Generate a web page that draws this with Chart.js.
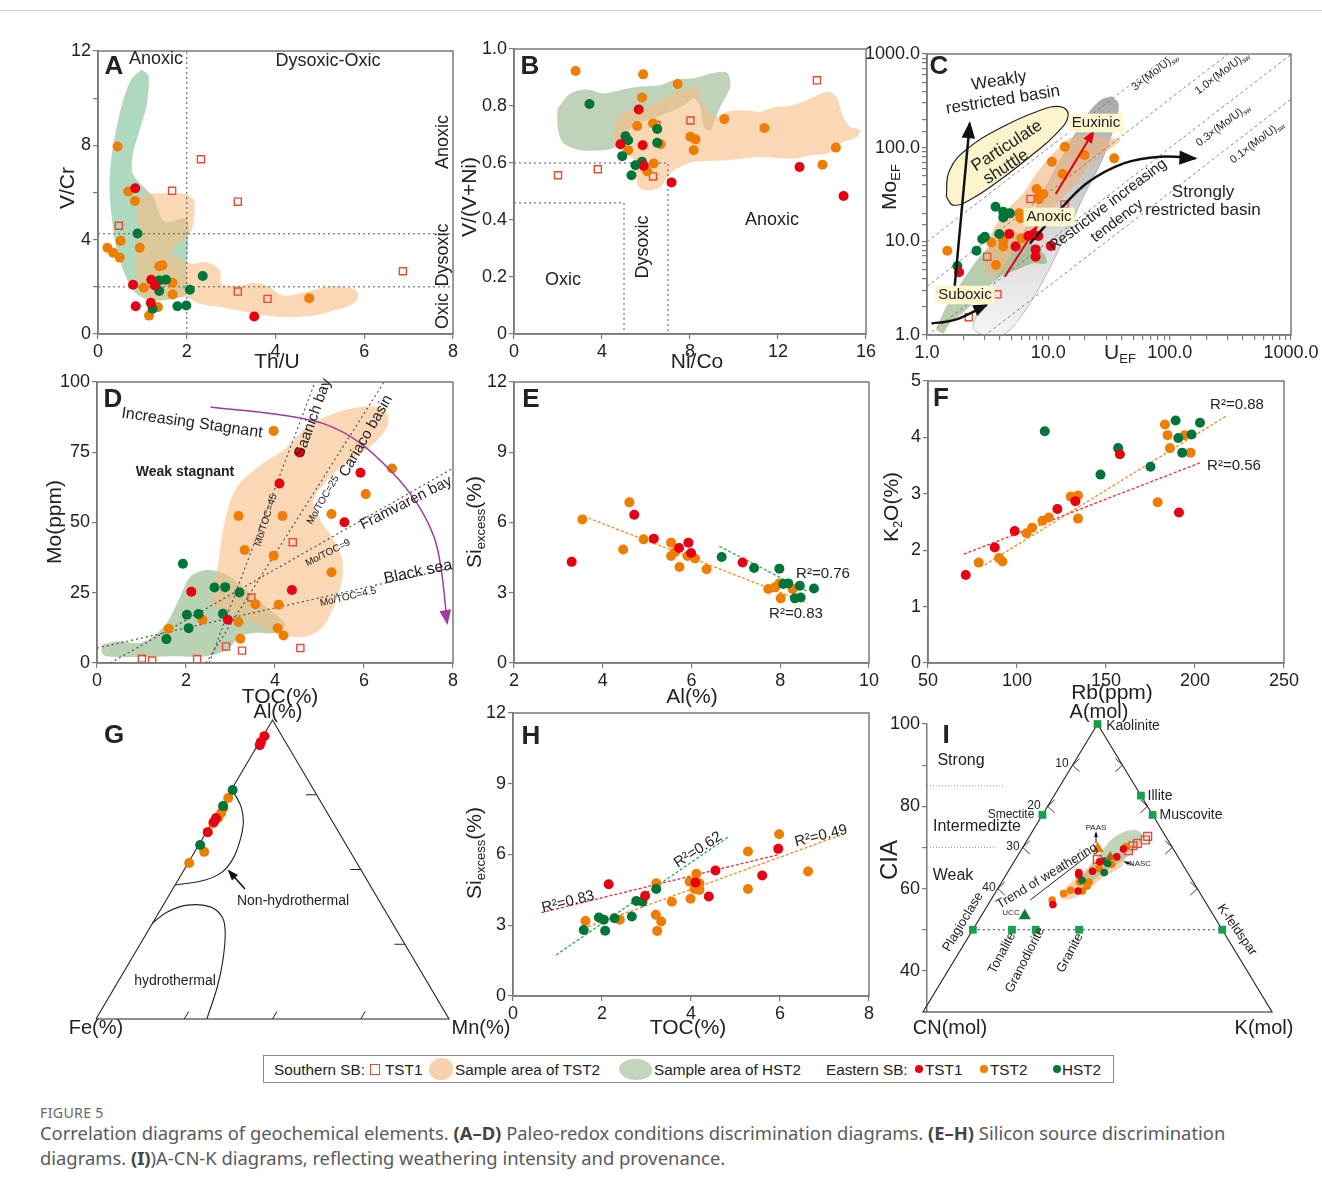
<!DOCTYPE html>
<html>
<head>
<meta charset="utf-8">
<script src="https://cdn.jsdelivr.net/npm/chart.js@4.4.1/dist/chart.umd.min.js"></script>
<style>
body { margin: 0; background: #fff; }
#page { position: relative; width: 1322px; height: 1189px; overflow: hidden; font-family: 'Liberation Sans', Arial, sans-serif; }
#topline { position: absolute; left: 0; top: 10px; width: 1322px; height: 1px; background: #d4d4d4; }
#legend { position: absolute; left: 263px; top: 1055px; width: 849px; height: 26px; border: 1px solid #8a8a8a; font-family: 'Liberation Sans Narrow', 'Liberation Sans', sans-serif; font-size: 15.3px; color: #222; }
#legend span { position: absolute; top: 5px; white-space: nowrap; }
#legend i { position: absolute; display: block; }
#figlabel { position: absolute; left: 40px; top: 1103px; font-family: 'Noto Sans', sans-serif; font-size: 14.2px; color: #6a6a6a; letter-spacing: 0.3px; }
.cap { position: absolute; left: 40px; font-family: 'Noto Sans', sans-serif; font-size: 18.4px; color: #5a5a5a; white-space: nowrap; }
.cap b { color: #444; }
</style>
</head>
<body>
<div id="page">
  <div id="topline"></div>
  <div id="legend">
    <span style="left:10px">Southern SB:</span>
    <i style="left:106px;top:8px;width:8px;height:9px;border:1.4px solid #EC4A33"></i>
    <span style="left:121px">TST1</span>
    <i style="left:165px;top:2px;width:24px;height:22px;background:#F6D2AC;border-radius:55% 45% 50% 50%"></i>
    <span style="left:191px">Sample area of TST2</span>
    <i style="left:355px;top:3px;width:33px;height:21px;background:#C3D5BD;border-radius:50% 50% 45% 55%"></i>
    <span style="left:390px">Sample area of HST2</span>
    <span style="left:562px">Eastern SB:</span>
    <i style="left:651px;top:9px;width:8px;height:8px;border-radius:50%;background:#E60012"></i>
    <span style="left:661px">TST1</span>
    <i style="left:716px;top:9px;width:8px;height:8px;border-radius:50%;background:#EF7D00"></i>
    <span style="left:726px">TST2</span>
    <i style="left:789px;top:9px;width:8px;height:8px;border-radius:50%;background:#00753A"></i>
    <span style="left:798px">HST2</span>
  </div>
  <div id="figlabel">FIGURE 5</div>
  <div class="cap" style="top:1120px">Correlation diagrams of geochemical elements. <b>(A–D)</b> Paleo-redox conditions discrimination diagrams. <b>(E–H)</b> Silicon source discrimination</div>
  <div class="cap" style="top:1145px">diagrams. <b>(I)</b>)A-CN-K diagrams, reflecting weathering intensity and provenance.</div>
</div>
<script>
const FONT = "'Liberation Sans', Arial, sans-serif";
const NARROW = "'Liberation Sans Narrow', 'Liberation Sans', sans-serif";
const RED = '#E60012', ORANGE = '#EF7D00', GREEN = '#00753A', SQ = '#EC4A33', MINERAL = '#17A04A';
const TAN = 'rgba(246,188,132,0.6)';

// ---- A : V/Cr vs Th/U
const aRedX = [0.84, 0.79, 1.20, 1.28, 0.85, 1.19, 3.52];
const aRedY = [6.18, 2.09, 2.30, 2.06, 1.18, 1.32, 0.74];
const aOrX = [0.44, 0.68, 0.83, 0.51, 0.21, 0.34, 0.49, 0.94, 1.38, 1.45, 1.68, 1.68, 1.03, 1.35, 1.15, 4.76];
const aOrY = [7.95, 6.04, 5.64, 3.95, 3.66, 3.45, 3.24, 3.66, 2.87, 2.91, 2.17, 1.68, 1.96, 1.14, 0.78, 1.52];
const aGrX = [0.89, 1.38, 1.53, 1.38, 1.79, 1.99, 2.07, 2.36, 1.23];
const aGrY = [4.26, 2.27, 2.30, 1.82, 1.18, 1.21, 1.88, 2.46, 1.07];
const aSqX = [0.47, 1.67, 2.32, 3.15, 3.15, 3.82, 6.87];
const aSqY = [4.59, 6.07, 7.41, 5.61, 1.80, 1.49, 2.66];
const aGreenX = [0.98, 1.14, 1.09, 0.94, 0.79, 0.78, 1.02, 1.24, 1.50, 1.99, 2.03, 1.99, 1.99, 1.69, 1.24, 0.87, 0.60, 0.41, 0.30, 0.26, 0.34, 0.53, 0.75];
const aGreenY = [11.22, 10.94, 9.66, 8.66, 7.67, 6.82, 6.25, 5.82, 4.76, 4.90, 3.98, 2.56, 1.70, 1.49, 1.42, 1.70, 2.56, 3.69, 5.11, 6.53, 7.95, 9.66, 10.80];
const aTanX = [0.87, 1.17, 1.99, 2.16, 2.16, 2.07, 1.69, 1.66, 1.92, 2.14, 2.45, 2.75, 2.78, 3.20, 3.50, 3.80, 4.18, 4.70, 5.15, 5.76, 5.87, 5.76, 5.30, 4.85, 4.33, 3.80, 3.20, 2.75, 2.29, 1.99, 1.69, 1.24, 0.94, 0.87, 0.87, 0.90];
const aTanY = [5.82, 5.94, 5.94, 5.68, 4.83, 4.26, 3.62, 3.41, 3.13, 2.98, 3.05, 2.70, 2.13, 2.06, 2.16, 2.06, 1.63, 1.78, 1.99, 1.92, 1.63, 1.28, 0.99, 0.78, 0.71, 0.78, 0.99, 1.14, 1.28, 1.56, 1.56, 1.49, 1.70, 2.56, 3.98, 4.83];
const aThU = 2, aVCr = [4.25, 2];

// ---- B : V/(V+Ni) vs Ni/Co
const bOrX = [2.80, 5.87, 7.44, 5.82, 5.60, 6.32, 5.19, 6.66, 6.35, 6.05, 9.56, 11.38, 8.02, 8.25, 8.17, 14.63, 14.02];
const bOrY = [0.923, 0.911, 0.877, 0.830, 0.730, 0.739, 0.645, 0.666, 0.598, 0.571, 0.754, 0.723, 0.692, 0.683, 0.645, 0.654, 0.594];
const bRedX = [5.67, 4.84, 5.85, 5.90, 7.16, 12.98, 14.98];
const bRedY = [0.788, 0.666, 0.662, 0.590, 0.532, 0.586, 0.484];
const bGrX = [3.43, 5.07, 5.19, 4.92, 6.51, 6.51, 5.52, 5.82, 5.34];
const bGrY = [0.807, 0.694, 0.680, 0.624, 0.719, 0.671, 0.592, 0.604, 0.557];
const bSqX = [2.00, 3.81, 6.32, 6.47, 8.02, 13.77];
const bSqY = [0.557, 0.578, 0.553, 0.733, 0.749, 0.890];
const bGreenX = [1.97, 2.57, 3.33, 4.08, 4.84, 5.75, 6.66, 7.26, 8.17, 8.93, 9.68, 9.83, 9.38, 9.08, 8.93, 8.70, 8.55, 8.47, 8.17, 7.72, 7.11, 6.51, 6.05, 5.45, 5.07, 4.69, 4.08, 3.03, 2.27, 2.00];
const bGreenY = [0.791, 0.844, 0.858, 0.844, 0.856, 0.868, 0.873, 0.891, 0.897, 0.914, 0.917, 0.868, 0.797, 0.739, 0.715, 0.721, 0.750, 0.797, 0.826, 0.803, 0.780, 0.762, 0.750, 0.739, 0.692, 0.657, 0.645, 0.645, 0.668, 0.715];
const bTanX = [4.54, 4.84, 5.75, 6.66, 7.56, 8.32, 8.47, 9.08, 9.68, 10.44, 11.20, 11.95, 12.71, 13.46, 14.22, 14.67, 14.90, 15.28, 15.73, 15.58, 14.83, 14.22, 13.46, 12.71, 11.20, 9.68, 8.17, 7.56, 7.26, 6.96, 6.66, 6.05, 5.67, 5.52, 5.45, 4.69, 4.54];
const bTanY = [0.727, 0.774, 0.785, 0.821, 0.856, 0.862, 0.821, 0.762, 0.780, 0.785, 0.780, 0.797, 0.803, 0.826, 0.850, 0.832, 0.774, 0.727, 0.715, 0.692, 0.668, 0.633, 0.627, 0.615, 0.621, 0.610, 0.604, 0.586, 0.574, 0.551, 0.516, 0.504, 0.516, 0.563, 0.610, 0.657, 0.692];
const bNiCo = [5, 7], bVVNi = [0.46, 0.6];

// ---- C : Mo EF vs U EF (log-log)
const cOrX = [1.47, 10.7, 13.7, 19.8, 34.9, 13.1, 8.0, 8.5, 9.1, 8.4, 5.75, 5.9, 6.0, 4.25, 4.25, 3.4, 3.7];
const cOrY = [7.95, 70.9, 102, 83.5, 76.9, 52.3, 36.2, 31.2, 32.0, 28.1, 19.9, 17.6, 10.8, 10.3, 8.8, 9.7, 5.6];
const cRedX = [1.84, 4.76, 5.37, 8.27, 7.86, 7.86, 10.5, 6.84];
const cRedY = [4.67, 12.0, 8.8, 11.4, 8.2, 6.86, 8.9, 11.4];
const cGrX = [1.78, 2.56, 2.85, 3.0, 3.67, 4.25, 4.82, 4.25, 3.94];
const cGrY = [5.45, 7.95, 10.6, 11.2, 23.4, 20.7, 19.9, 18.0, 12.0];
const cSqX = [7.14, 13.6, 3.13, 3.81, 2.21];
const cSqY = [28.3, 24.8, 6.86, 2.72, 1.55];
const cGrayX = [33.0, 37.5, 36.7, 28.5, 19.5, 13.3, 9.1, 6.2, 4.25, 2.9, 2.4, 3.0, 4.3, 6.4, 9.6, 14.5, 20.7, 27.0];
const cGrayY = [350, 300, 214, 80.1, 30.0, 10.3, 3.86, 1.70, 1.0, 1.0, 1.23, 2.36, 5.37, 13.2, 38.3, 102, 220, 320];
const cTanX = [28.5, 39.1, 28.5, 22.1, 17.1, 13.3, 9.1, 7.05, 5.14, 3.99, 3.09, 3.09, 3.51, 4.53, 6.21, 8.0, 11.0, 15.1, 20.7];
const cTanY = [126, 121, 87, 68, 41.6, 30.0, 16.9, 10.3, 7.45, 4.55, 4.55, 7.45, 13.2, 21.6, 32.5, 53.2, 87, 126, 137];
const cGreenX = [1.19, 1.44, 1.98, 2.72, 3.74, 4.82, 6.62, 9.1, 9.69, 7.52, 5.47, 3.99, 2.90, 2.11, 1.54, 1.36];
const cGreenY = [1.13, 2.01, 3.86, 6.86, 10.3, 13.2, 10.3, 7.45, 5.82, 5.82, 4.94, 4.2, 2.79, 1.85, 1.33, 1.04];
const cShuttleX = [1.44, 1.54, 2.25, 4.25, 8.0, 12.5, 14.6, 11.7, 7.05, 3.99, 2.25, 1.64];
const cShuttleY = [30.0, 57.8, 102, 168, 242, 274, 223, 142, 80, 45.2, 27.6, 24.4];
const cRatio = [3, 1, 0.3, 0.1], cSeawater = 3.3;

// ---- D : Mo vs TOC
const dOrX = [3.97, 6.63, 6.04, 3.18, 4.17, 5.27, 3.32, 3.97, 5.27, 3.56, 4.08, 1.61, 2.37, 3.18, 4.06, 4.19, 3.22];
const dOrY = [82.6, 69.2, 60.1, 52.3, 52.3, 53.0, 40.2, 38.2, 32.3, 20.9, 20.7, 12.2, 15.4, 14.6, 12.4, 9.8, 8.6];
const dRedX = [4.55, 4.10, 5.92, 5.56, 4.38, 2.12, 2.94];
const dRedY = [74.9, 63.9, 67.7, 50.1, 26.0, 25.4, 15.4];
const dGrX = [1.93, 2.64, 2.88, 3.20, 2.02, 2.28, 2.83, 2.06, 1.56];
const dGrY = [35.3, 26.9, 27.0, 25.1, 17.2, 17.4, 17.5, 12.4, 8.5];
const dSqX = [1.01, 1.24, 2.25, 2.90, 3.26, 3.47, 4.40, 4.57];
const dSqY = [1.5, 0.9, 1.4, 5.9, 4.4, 23.3, 43.0, 5.3];
const dGreenX = [0.11, 0.45, 0.97, 1.27, 1.57, 1.87, 2.10, 2.47, 2.92, 3.52, 3.97, 4.23, 3.97, 3.52, 3.22, 2.92, 2.47, 1.72, 0.97, 0.22, 0.11];
const dGreenY = [6.5, 7.7, 7.1, 9.5, 14.2, 23.7, 30.8, 33.1, 31.4, 23.7, 17.8, 13.6, 10.7, 10.7, 9.5, 4.7, 2.4, 2.4, 2.1, 2.4, 3.6];
const dTanX = [2.58, 2.70, 2.88, 3.15, 3.67, 4.19, 4.72, 5.32, 5.92, 6.44, 6.55, 6.22, 5.69, 5.24, 4.87, 5.02, 5.32, 5.51, 5.51, 5.32, 5.09, 4.72, 4.27, 3.97, 3.52, 3.07, 2.77];
const dTanY = [21.3, 33.1, 50.9, 62.7, 70.4, 75.7, 84.0, 88.8, 91.1, 90.5, 85.2, 78.1, 72.2, 66.3, 58.0, 50.9, 43.8, 36.7, 29.6, 20.1, 13.0, 9.5, 9.5, 10.7, 14.2, 17.8, 18.9];
// reference basins: Saanich, Cariaco, Framvaren, Black sea
const dRefX0 = [2.52, 2.45, 0.3, 0], dRefY0 = [0, 0, 0, 5.3];
const dRefX1 = [4.9, 6.45, 8, 8], dRefY1 = [100, 100, 69.3, 33.9];

// ---- E : Si excess vs Al
const eOrX = [3.54, 4.60, 4.46, 4.92, 5.54, 5.54, 5.73, 5.91, 6.08, 6.34, 7.73, 7.88, 7.98, 8.01, 8.28, 5.63];
const eOrY = [6.13, 6.86, 4.85, 5.28, 5.14, 4.57, 4.10, 4.57, 4.46, 4.00, 3.16, 3.23, 3.40, 2.76, 3.16, 4.74];
const eRedX = [3.30, 4.71, 5.15, 5.72, 5.93, 5.99, 7.15];
const eRedY = [4.32, 6.33, 5.31, 4.91, 5.14, 4.70, 4.29];
const eGrX = [6.68, 7.41, 7.98, 8.07, 8.18, 8.44, 8.76, 8.33, 8.46];
const eGrY = [4.53, 4.06, 4.03, 3.37, 3.40, 3.30, 3.18, 2.76, 2.80];
const eFitOrX = [3.57, 8.63], eFitOrY = [6.27, 2.55];
const eFitGrX = [6.63, 8.63], eFitGrY = [4.98, 3.04];

// ---- F : K2O vs Rb
const fOrX = [78.5, 89.9, 91.8, 105.3, 108.5, 114.3, 117.9, 130.2, 134.3, 134.3, 179.0, 183.1, 184.6, 185.9, 194.3, 197.5];
const fOrY = [1.78, 1.86, 1.80, 2.30, 2.40, 2.52, 2.58, 2.95, 2.97, 2.56, 2.85, 4.23, 4.04, 3.81, 4.04, 3.73];
const fRedX = [71.2, 87.5, 98.7, 122.7, 132.8, 157.8, 191.0];
const fRedY = [1.56, 2.05, 2.34, 2.73, 2.87, 3.70, 2.67];
const fGrX = [115.6, 146.9, 156.8, 175.0, 189.1, 190.6, 192.8, 198.1, 202.8];
const fGrY = [4.11, 3.34, 3.81, 3.48, 4.30, 3.99, 3.73, 4.05, 4.26];
const fFitOrX = [81.9, 218.1], fFitOrY = [1.74, 4.39];
const fFitRedX = [70.1, 203.7], fFitRedY = [1.93, 3.56];

// ---- G : Al-Fe-Mn ternary (Al %, Mn %; Fe is the rest)
const gRedAl = [94.6, 92.6, 91.6, 67.2, 65.9, 62.5], gRedMn = [0.4, 0.4, 0.6, 0.4, 0.4, 0.4];
const gOrAl = [73.9, 70.6, 68.9, 67.2, 65.5, 55.9, 52.2], gOrMn = [0.5, 0.8, 1.0, 1.0, 0.5, 2.7, 0.3];
const gGrAl = [76.6, 71.2, 58.2], gGrMn = [0.4, 0.4, 0.4];
const gNonHydroAl = [76.6, 74.2, 70.6, 65.9, 59.9, 53.8, 49.2, 46.5, 44.8];
const gNonHydroMn = [0, 2.7, 5.9, 8.8, 10.9, 12.0, 11.2, 7.7, 0];
const gHydroAl = [32.1, 35.8, 38.1, 37.5, 34.1, 28.8, 19.7, 10.7, 0];
const gHydroMn = [0, 2.3, 6.8, 13.6, 18.7, 22.2, 26.1, 29.0, 31.4];
const gTicks = [25, 50, 75];

// ---- H : Si excess vs TOC
const hOrX = [1.63, 2.40, 3.22, 3.21, 3.33, 3.24, 3.57, 3.99, 3.97, 4.12, 4.08, 4.19, 4.19, 5.28, 5.28, 5.98, 6.63];
const hOrY = [3.18, 3.23, 4.78, 3.44, 3.16, 2.76, 4.00, 4.12, 4.85, 5.18, 4.54, 4.50, 4.78, 6.13, 4.54, 6.86, 5.28];
const hRedX = [2.15, 2.97, 4.10, 4.55, 4.40, 5.60, 5.96];
const hRedY = [4.74, 4.25, 4.81, 5.32, 4.22, 5.11, 6.24];
const hGrX = [1.59, 1.93, 2.04, 2.07, 2.28, 2.67, 2.77, 2.91, 3.22];
const hGrY = [2.80, 3.33, 3.23, 2.77, 3.30, 3.37, 4.03, 4.00, 4.54];
const hFitRedX = [0.64, 5.96], hFitRedY = [3.54, 5.99];
const hFitOrX = [1.48, 7.38], hFitOrY = [2.80, 6.83];
const hFitGrX = [0.97, 4.85], hFitGrY = [1.74, 6.76];

// ---- I : A-CN-K (A = CIA %, K mol %, CN is the rest)
const iRedA = [66.5, 67.7, 69.6, 63.9, 63.3, 64.2, 59.4, 56.1], iRedK = [17.2, 20.0, 20.4, 14.3, 14.6, 16.9, 16.4, 13.0];
const iOrA = [70.2, 65.9, 64.9, 61.6, 61.6, 60.6, 59.4, 59.6, 58.8, 57.2], iOrK = [20.6, 19.9, 17.9, 15.6, 17.5, 17.6, 17.3, 14.8, 13.8, 12.3];
const iGrA = [66.7, 66.1, 63.9, 62.0], iGrK = [18.0, 19.0, 19.4, 15.9];
const iSqA = [67.1, 69.2, 70.4, 71.0, 71.8, 72.7], iSqK = [16.4, 21.6, 21.9, 22.5, 23.7, 23.7];
// Kaolinite, Illite, Muscovite, Smectite, Plagioclase, Tonalite, Granodiorite, Granite, K-feldspar
const iMinA = [100, 82.6, 77.9, 77.9, 50, 50, 50, 50, 50], iMinK = [0, 17.4, 22.1, 0, 0, 7.85, 12.6, 21.3, 50];
const iUccA = [53.4], iUccK = [8.7];
const iPaasA = [69.7], iPaasK = [15.2];
const iNascA = [67.7], iNascK = [18.7];
const iTanA = [57.6, 59.6, 62.9, 66.9, 68.5, 68.4, 65.3, 62.9, 59.6, 57.4], iTanK = [13.7, 13.4, 14.5, 16.5, 19.1, 21.2, 22.1, 19.9, 18.1, 15.9];
const iGreenA = [61.9, 67.7, 71.8, 73.8, 74.2, 73.0, 70.2, 66.5, 64.1, 61.6, 60.4], iGreenK = [15.4, 16.1, 16.8, 18.5, 20.7, 22.6, 23.0, 21.5, 19.3, 17.8, 16.4];
const iTrendA = [57.2, 68.3], iTrendK = [7.9, 14.2];
const iZoneY = [85, 70], iZoneEnd = [0.23, 0.205];
const iEdgeTicks = [90, 80, 70, 60];

// ---------------- helpers
function pts(xs, ys) { return xs.map((x, i) => ({x: x, y: ys[i]})); }
function gPts(al, mn) { return al.map((a, i) => ({x: mn[i] / 100 + a / 200, y: a / 100})); }
function iPts(a, k) { return a.map((v, i) => ({x: 0.5 - (100 - v) / 140 + k[i] / 70, y: v})); }

function dots(data, color, r, extra) {
  return Object.assign({data: data, pointRadius: r || 5, pointBackgroundColor: color, pointBorderWidth: 0, pointHoverRadius: 0}, extra);
}
function squares(data, r, extra) {
  return Object.assign({data: data, pointStyle: 'rect', pointRadius: r || 5, pointBackgroundColor: 'rgba(255,255,255,0)', pointBorderColor: SQ, pointBorderWidth: 1.4}, extra);
}
function area(data, color, extra) {
  const d = data.slice(); d.push(data[0]);
  return Object.assign({type: 'line', data: d, fill: 'shape', backgroundColor: color, borderWidth: 0, pointRadius: 0, tension: 0.3}, extra);
}
function seg(data, color, dash, w, extra) {
  return Object.assign({type: 'line', data: data, borderColor: color, borderWidth: w || 1, borderDash: dash || [], pointRadius: 0, fill: false, tension: 0}, extra);
}

function axis(min, max, step, show, fmt) {
  return {
    type: 'linear', min: min, max: max,
    ticks: {stepSize: step, autoSkip: false, maxRotation: 0, font: {family: FONT, size: 18}, color: '#222', padding: 2,
      callback: v => show(v) ? fmt(v) : ''},
    grid: {drawOnChartArea: false, drawTicks: true, tickLength: 5, color: '#7a7a7a', lineWidth: 1.2},
    border: {color: '#7a7a7a', width: 1.5}
  };
}
const all = () => true, plain = v => String(v);
function logAxis() {
  return {
    type: 'logarithmic', min: 1, max: 1000,
    ticks: {autoSkip: false, maxRotation: 0, font: {family: FONT, size: 18}, color: '#222', padding: 2,
      callback: v => [1, 10, 100, 1000].indexOf(v) >= 0 ? v.toFixed(1) : ''},
    grid: {drawOnChartArea: false, drawTicks: true, tickLength: 5, color: '#7a7a7a', lineWidth: 1.2},
    border: {color: '#7a7a7a', width: 1.5}
  };
}

// ---------------- annotation plugin (texts in page px, arrows in data units)
const SPECS = {};
function drawText(ctx, t, spec) {
  const size = t.s || 18;
  const parts = Array.isArray(t.t) ? t.t : [[t.t, 0]];
  const fam = t.f || FONT, wt = t.b ? 'bold ' : '';
  const fontFor = sub => wt + (sub ? Math.round(size * 0.62) : size) + 'px ' + fam;
  ctx.save();
  ctx.translate(t.x - spec.ox, t.y - spec.oy);
  if (t.r) ctx.rotate(t.r * Math.PI / 180);
  let w = 0;
  parts.forEach(p => { ctx.font = fontFor(p[1]); w += ctx.measureText(p[0]).width; });
  if (t.bg) { ctx.fillStyle = t.bg; ctx.fillRect(-w / 2 - 3, -size * 0.62, w + 6, size * 1.24); }
  ctx.fillStyle = t.c || '#222';
  ctx.textBaseline = 'middle';
  ctx.textAlign = 'left';
  let x = -w / 2;
  parts.forEach(p => {
    ctx.font = fontFor(p[1]);
    ctx.fillText(p[0], x, p[1] ? size * 0.32 : 0);
    x += ctx.measureText(p[0]).width;
  });
  ctx.restore();
}
function drawArrow(ctx, p, o) {
  ctx.save();
  ctx.strokeStyle = o.c; ctx.fillStyle = o.c; ctx.lineWidth = o.w;
  ctx.beginPath();
  ctx.moveTo(p[0][0], p[0][1]);
  let last = p[0];
  for (let i = 0; i < p.length - 1; i++) {
    const p0 = p[i - 1] || p[i], p1 = p[i], p2 = p[i + 1], p3 = p[i + 2] || p2;
    const c1 = [p1[0] + (p2[0] - p0[0]) / 6, p1[1] + (p2[1] - p0[1]) / 6];
    const c2 = [p2[0] - (p3[0] - p1[0]) / 6, p2[1] - (p3[1] - p1[1]) / 6];
    ctx.bezierCurveTo(c1[0], c1[1], c2[0], c2[1], p2[0], p2[1]);
    last = c2;
  }
  ctx.stroke();
  if (o.h) {
    const e = p[p.length - 1];
    const ang = Math.atan2(e[1] - last[1], e[0] - last[0]);
    const h = o.h;
    ctx.beginPath();
    ctx.moveTo(e[0] + Math.cos(ang) * 2, e[1] + Math.sin(ang) * 2);
    ctx.lineTo(e[0] - Math.cos(ang) * h + Math.sin(ang) * h * 0.45, e[1] - Math.sin(ang) * h - Math.cos(ang) * h * 0.45);
    ctx.lineTo(e[0] - Math.cos(ang) * h - Math.sin(ang) * h * 0.45, e[1] - Math.sin(ang) * h + Math.cos(ang) * h * 0.45);
    ctx.closePath();
    ctx.fill();
  }
  ctx.restore();
}
const notesPlugin = {
  id: 'notes',
  afterDatasetsDraw(chart) {
    const spec = SPECS[chart.canvas.id];
    if (!spec) return;
    const ctx = chart.ctx, sx = chart.scales.x, sy = chart.scales.y, a = chart.chartArea;
    if (spec.frame) {
      ctx.save(); ctx.strokeStyle = '#7a7a7a'; ctx.lineWidth = 1.5;
      ctx.strokeRect(a.left, a.top, a.right - a.left, a.bottom - a.top);
      ctx.restore();
    }
    spec.arrows.forEach(ar => {
      const p = ar.pts.map(q => ar.page ? [q[0] - spec.ox, q[1] - spec.oy] : [sx.getPixelForValue(q[0]), sy.getPixelForValue(q[1])]);
      drawArrow(ctx, p, ar);
    });
    spec.texts.forEach(t => drawText(ctx, t, spec));
  }
};

function panel(id, L, T, R, B, m, datasets, scales, texts, arrows, frame) {
  const left = L - m[0], top = T - m[1];
  const cv = document.createElement('canvas');
  cv.id = id;
  cv.width = R - L + m[0] + m[2];
  cv.height = B - T + m[1] + m[3];
  cv.style.cssText = 'position:absolute;left:' + left + 'px;top:' + top + 'px;';
  document.getElementById('page').appendChild(cv);
  SPECS[id] = {ox: left, oy: top, texts: texts || [], arrows: arrows || [], frame: frame};
  const yOn = scales.y.display !== false, xOn = scales.x.display !== false;
  if (yOn) scales.y.afterFit = s => { s.width = m[0]; };
  if (xOn) scales.x.afterFit = s => { s.height = m[3]; };
  return new Chart(cv, {
    type: 'scatter',
    data: {datasets: datasets},
    options: {
      responsive: false, animation: false, events: [],
      layout: {padding: {left: yOn ? 0 : m[0], top: m[1], right: m[2], bottom: xOn ? 0 : m[3]}},
      scales: scales,
      plugins: {legend: {display: false}, tooltip: {enabled: false}}
    },
    plugins: [notesPlugin]
  });
}

const M = [80, 22, 26, 46];
const DOT = '#555';

// ---------------- A
panel('cA', 98, 51, 453, 334, M, [
  dots(pts(aRedX, aRedY), RED), dots(pts(aGrX, aGrY), GREEN), dots(pts(aOrX, aOrY), ORANGE),
  squares(pts(aSqX, aSqY)),
  seg([{x: aThU, y: 0}, {x: aThU, y: 12}], DOT, [2, 3]),
  seg([{x: 0, y: aVCr[0]}, {x: 8, y: aVCr[0]}], DOT, [2, 3]),
  seg([{x: 0, y: aVCr[1]}, {x: 8, y: aVCr[1]}], DOT, [2, 3]),
  area(pts(aTanX, aTanY), TAN),
  area(pts(aGreenX, aGreenY), 'rgba(110,186,138,0.55)')
], {x: axis(0, 8, 2, all, plain), y: axis(0, 12, 2, v => v % 4 === 0, plain)}, [
  {t: 'A', x: 114, y: 67, s: 26, b: 1},
  {t: 'Anoxic', x: 156, y: 59},
  {t: 'Dysoxic-Oxic', x: 328, y: 61},
  {t: 'Anoxic', x: 443, y: 142, r: -90},
  {t: 'Dysoxic', x: 443, y: 255, r: -90},
  {t: 'Oxic', x: 443, y: 311, r: -90},
  {t: 'V/Cr', x: 68, y: 188, s: 21, r: -90},
  {t: 'Th/U', x: 277, y: 362, s: 21}
], [], true);

// ---------------- B
panel('cB', 514, 49, 866, 334, M, [
  dots(pts(bRedX, bRedY), RED), dots(pts(bGrX, bGrY), GREEN), dots(pts(bOrX, bOrY), ORANGE),
  squares(pts(bSqX, bSqY)),
  seg([{x: 0, y: bVVNi[1]}, {x: bNiCo[1], y: bVVNi[1]}, {x: bNiCo[1], y: 0}], DOT, [2, 3]),
  seg([{x: 0, y: bVVNi[0]}, {x: bNiCo[0], y: bVVNi[0]}, {x: bNiCo[0], y: 0}], DOT, [2, 3]),
  area(pts(bTanX, bTanY), TAN),
  area(pts(bGreenX, bGreenY), 'rgba(150,182,140,0.6)')
], {x: axis(0, 16, 4, all, plain), y: axis(0, 1, 0.2, all, v => v === 0 ? '0' : v.toFixed(1))}, [
  {t: 'B', x: 530, y: 67, s: 26, b: 1},
  {t: 'Oxic', x: 563, y: 280},
  {t: 'Dysoxic', x: 643, y: 247, r: -90},
  {t: 'Anoxic', x: 772, y: 220},
  {t: 'V/(V+Ni)', x: 470, y: 197, s: 21, r: -90},
  {t: 'Ni/Co', x: 697, y: 362, s: 21}
], [], true);

// ---------------- C
const cLines = cRatio.map(k => seg([{x: 1, y: k * cSeawater}, {x: 1000, y: 1000 * k * cSeawater}], '#777', [3, 3], 0.9));
panel('cC', 927, 54, 1291, 335, [80, 22, 30, 46], [
  dots(pts(cRedX, cRedY), RED), dots(pts(cGrX, cGrY), GREEN), dots(pts(cOrX, cOrY), ORANGE),
  squares(pts(cSqX, cSqY)),
  area(pts(cShuttleX, cShuttleY), '#FCF4CC', {borderWidth: 1.2, borderColor: '#222', tension: 0.45})
].concat(cLines).concat([
  area(pts(cTanX, cTanY), 'rgba(240,178,120,0.6)'),
  area(pts(cGreenX, cGreenY), 'rgba(135,172,120,0.6)'),
  area(pts(cGrayX, cGrayY), ctx => {
    const ch = ctx.chart, a = ch.chartArea;
    if (!a) return 'rgba(170,170,170,0.6)';
    const g = ch.ctx.createLinearGradient(0, a.top + 30, 0, a.bottom);
    g.addColorStop(0, 'rgba(140,140,140,0.8)');
    g.addColorStop(0.45, 'rgba(185,185,185,0.7)');
    g.addColorStop(1, 'rgba(240,240,240,0.7)');
    return g;
  }, {borderWidth: 0.8, borderColor: '#aaa', tension: 0.35})
]), {x: logAxis(), y: logAxis()}, [
  {t: 'C', x: 939, y: 67, s: 26, b: 1},
  {t: 'Weakly', x: 999, y: 81, s: 17, r: -9},
  {t: 'restricted basin', x: 1003, y: 100, s: 17, r: -9},
  {t: 'Particulate', x: 1007, y: 146, s: 17, r: -33},
  {t: 'shuttle', x: 1006, y: 167, s: 17, r: -33},
  {t: 'Euxinic', x: 1096, y: 123, s: 15, bg: '#FDF6CF'},
  {t: 'Anoxic', x: 1049, y: 217, s: 15, bg: '#FDF6CF'},
  {t: 'Suboxic', x: 965, y: 295, s: 15, bg: '#FDF6CF'},
  {t: 'Restrictive increasing', x: 1108, y: 205, s: 15, r: -37},
  {t: 'tendency', x: 1117, y: 221, s: 15, r: -37},
  {t: 'Strongly', x: 1203, y: 192, s: 17},
  {t: 'restricted basin', x: 1203, y: 210, s: 17},
  {t: [['3×(Mo/U)', 0], ['sw', 1]], x: 1155, y: 72, s: 11, r: -37, f: NARROW},
  {t: [['1.0×(Mo/U)', 0], ['sw', 1]], x: 1222, y: 73, s: 11, r: -37, f: NARROW},
  {t: [['0.3×(Mo/U)', 0], ['sw', 1]], x: 1223, y: 125, s: 11, r: -37, f: NARROW},
  {t: [['0.1×(Mo/U)', 0], ['sw', 1]], x: 1257, y: 142, s: 11, r: -37, f: NARROW},
  {t: [['Mo', 0], ['EF', 1]], x: 890, y: 187, s: 21, r: -90},
  {t: [['U', 0], ['EF', 1]], x: 1120, y: 353, s: 21}
], [
  {pts: [[1.69, 3.28], [2.25, 182]], c: '#111', w: 2.5, h: 15},
  {pts: [[1.09, 1.33], [1.75, 1.47], [3.09, 2.09]], c: '#111', w: 2.5, h: 13},
  {pts: [[7.05, 9.5], [11.7, 19.9], [20.7, 41.6], [41.7, 68], [83.7, 80.2], [163, 76.9]], c: '#111', w: 2.5, h: 16},
  {pts: [[4.38, 4.2], [8.0, 14.3]], c: RED, w: 2, h: 11},
  {pts: [[11.5, 32.0], [23.5, 148]], c: RED, w: 2, h: 11}
], true);

// ---------------- D
const dLines = dRefX0.map((x0, i) => seg([{x: x0, y: dRefY0[i]}, {x: dRefX1[i], y: dRefY1[i]}], '#444', [2, 3], 1.1));
panel('cD', 97, 382, 453, 663, M, [
  dots(pts(dRedX, dRedY), RED), dots(pts(dGrX, dGrY), GREEN), dots(pts(dOrX, dOrY), ORANGE),
  squares(pts(dSqX, dSqY))
].concat(dLines).concat([
  area(pts(dTanX, dTanY), TAN),
  area(pts(dGreenX, dGreenY), 'rgba(140,180,130,0.6)')
]), {x: axis(0, 8, 2, all, plain), y: axis(0, 100, 25, all, plain)}, [
  {t: 'D', x: 113, y: 400, s: 26, b: 1},
  {t: 'Increasing Stagnant', x: 192, y: 423, s: 16, r: 8},
  {t: 'Weak stagnant', x: 185, y: 472, s: 14, b: 1},
  {t: 'Saanich bay', x: 313, y: 418, s: 15, r: -70},
  {t: 'Cariaco basin', x: 366, y: 436, s: 15, r: -60},
  {t: 'Framvaren bay', x: 406, y: 503, s: 15, r: -27},
  {t: 'Black sea', x: 418, y: 572, s: 16, r: -12},
  {t: 'Mo/TOC=45', x: 266, y: 520, s: 10, r: -72, f: NARROW},
  {t: 'Mo/TOC=25', x: 323, y: 500, s: 10, r: -60, f: NARROW},
  {t: 'Mo/TOC=9', x: 328, y: 553, s: 10, r: -27, f: NARROW},
  {t: 'Mo/TOC=4.5', x: 348, y: 597, s: 10, r: -13, f: NARROW},
  {t: 'Mo(ppm)', x: 55, y: 522, s: 21, r: -90},
  {t: 'TOC(%)', x: 280, y: 697, s: 21}
], [
  {pts: [[2.55, 91.1], [5.09, 85.2], [6.59, 68.6], [7.57, 45], [7.87, 14.2]], c: '#A03B9E', w: 1.5, h: 13}
], true);

// ---------------- E
panel('cE', 514, 382, 869, 663, M, [
  dots(pts(eRedX, eRedY), RED), dots(pts(eGrX, eGrY), GREEN), dots(pts(eOrX, eOrY), ORANGE),
  seg(pts(eFitGrX, eFitGrY), '#22B04B', [3, 2], 1.3),
  seg(pts(eFitOrX, eFitOrY), '#F08A1C', [3, 2], 1.3)
], {x: axis(2, 10, 2, all, plain), y: axis(0, 12, 3, all, plain)}, [
  {t: 'E', x: 531, y: 400, s: 26, b: 1},
  {t: 'R²=0.76', x: 823, y: 574, s: 15},
  {t: 'R²=0.83', x: 796, y: 614, s: 15},
  {t: [['Si', 0], ['excess', 1], ['(%)', 0]], x: 475, y: 522, s: 21, r: -90},
  {t: 'Al(%)', x: 692, y: 697, s: 21}
], [], true);

// ---------------- F
panel('cF', 928, 381, 1284, 663, [80, 22, 30, 46], [
  dots(pts(fRedX, fRedY), RED), dots(pts(fGrX, fGrY), GREEN), dots(pts(fOrX, fOrY), ORANGE),
  seg(pts(fFitOrX, fFitOrY), '#F08A1C', [3, 2], 1.3),
  seg(pts(fFitRedX, fFitRedY), '#EE2A2A', [3, 2], 1.3)
], {x: axis(50, 250, 50, all, plain), y: axis(0, 5, 1, all, plain)}, [
  {t: 'F', x: 941, y: 399, s: 26, b: 1},
  {t: 'R²=0.88', x: 1237, y: 405, s: 15},
  {t: 'R²=0.56', x: 1234, y: 466, s: 15},
  {t: [['K', 0], ['2', 1], ['O(%)', 0]], x: 892, y: 507, s: 21, r: -90},
  {t: 'Rb(ppm)', x: 1112, y: 693, s: 21}
], [], true);

// ---------------- G (ternary)
const gTri = gPts([0, 0, 100, 0], [0, 100, 0, 0]);
const gTickSegs = [];
gTicks.forEach(t => {
  gTickSegs.push(seg(gPts([0, 2.5], [t, t]), '#222', [], 1, {clip: false}));
  gTickSegs.push(seg(gPts([t, t], [100 - t, 97 - t]), '#222', [], 1, {clip: false}));
});
panel('cG', 96, 720, 449, 1019, [56, 20, 75, 30], [
  dots(gPts(gRedAl, gRedMn), RED, 5, {clip: false}),
  dots(gPts(gGrAl, gGrMn), GREEN, 5, {clip: false}),
  dots(gPts(gOrAl, gOrMn), ORANGE, 5, {clip: false}),
  seg(gPts(gNonHydroAl, gNonHydroMn), '#222', [], 1.1, {tension: 0.4}),
  seg(gPts(gHydroAl, gHydroMn), '#222', [], 1.1, {tension: 0.4}),
  seg(gTri, '#222', [], 1.1, {clip: false})
].concat(gTickSegs), {
  x: {type: 'linear', min: 0, max: 1, display: false},
  y: {type: 'linear', min: 0, max: 1, display: false}
}, [
  {t: 'G', x: 114, y: 736, s: 26, b: 1},
  {t: 'Al(%)', x: 278, y: 712, s: 20},
  {t: 'Fe(%)', x: 96, y: 1028, s: 20},
  {t: 'Mn(%)', x: 481, y: 1028, s: 20},
  {t: 'Non-hydrothermal', x: 293, y: 901, s: 14, f: NARROW},
  {t: 'hydrothermal', x: 175, y: 981, s: 14, f: NARROW}
], [
  {pts: [[245, 889], [229, 871]], page: true, c: '#111', w: 1.6, h: 9}
], false);

// ---------------- H
panel('cH', 513, 713, 869, 996, M, [
  dots(pts(hRedX, hRedY), RED), dots(pts(hGrX, hGrY), GREEN), dots(pts(hOrX, hOrY), ORANGE),
  seg(pts(hFitRedX, hFitRedY), '#EE2A2A', [3, 2], 1.3),
  seg(pts(hFitOrX, hFitOrY), '#F08A1C', [3, 2], 1.3),
  seg(pts(hFitGrX, hFitGrY), '#22B04B', [3, 2], 1.3)
], {x: axis(0, 8, 2, all, plain), y: axis(0, 12, 3, all, plain)}, [
  {t: 'H', x: 531, y: 737, s: 26, b: 1},
  {t: 'R²=0.83', x: 568, y: 902, s: 15, r: -14},
  {t: 'R²=0.62', x: 698, y: 850, s: 15, r: -33},
  {t: 'R²=0.49', x: 821, y: 836, s: 15, r: -14},
  {t: [['Si', 0], ['excess', 1], ['(%)', 0]], x: 475, y: 853, s: 21, r: -90},
  {t: 'TOC(%)', x: 688, y: 1028, s: 21}
], [], true);

// ---------------- I (A-CN-K)
const iTri = iPts([100, 30, 30, 100], [0, 0, 70, 0]);
const iAxisY = axis(30, 100, 10, v => v % 20 === 0, plain);
iAxisY.afterBuildTicks = s => { s.ticks = s.ticks.filter(t => t.value >= 40); };
const iZones = iZoneY.map((y, i) => seg([{x: 0.0115, y: y}, {x: iZoneEnd[i], y: y}], '#999', [1, 2], 1));
// small chevron marks on both sloping edges
const iChevrons = [];
iEdgeTicks.forEach(a => {
  const l = iPts([a], [0])[0], r = iPts([a], [100 - a])[0];
  iChevrons.push(seg([{x: l.x + 0.02, y: a + 1.6}, l, {x: l.x + 0.02, y: a - 1.6}], '#222', [], 0.9));
  iChevrons.push(seg([{x: r.x - 0.02, y: a + 1.6}, r, {x: r.x - 0.02, y: a - 1.6}], '#222', [], 0.9));
});
panel('cI', 927, 724, 1300, 1012, [80, 22, 20, 30], [
  dots(iPts(iUccA, iUccK), '#0E7A3A', 7, {pointStyle: 'triangle', clip: false}),
  dots(iPts(iPaasA, iPaasK), ORANGE, 7, {pointStyle: 'triangle'}),
  dots(iPts(iNascA, iNascK), '#B5651D', 6, {pointStyle: 'triangle'}),
  dots(iPts(iRedA, iRedK), RED, 3.8),
  dots(iPts(iGrA, iGrK), GREEN, 3.8),
  dots(iPts(iOrA, iOrK), ORANGE, 3.8),
  squares(iPts(iSqA, iSqK), 5.5),
  dots(iPts(iMinA, iMinK), MINERAL, 5.5, {pointStyle: 'rect', clip: false}),
  seg(iPts(iTrendA, iTrendK), '#222', [], 1),
  seg(iPts([50, 50], [0, 50]), '#333', [2, 3], 1.1, {clip: false})
].concat(iZones).concat(iChevrons).concat([
  seg(iTri, '#222', [], 1.1, {clip: false}),
  area(iPts(iGreenA, iGreenK), 'rgba(150,185,140,0.6)'),
  area(iPts(iTanA, iTanK), 'rgba(246,188,132,0.65)')
]), {
  x: {type: 'linear', min: 0.0115, max: 1.08, display: false},
  y: iAxisY
}, [
  {t: 'I', x: 946, y: 736, s: 26, b: 1},
  {t: 'Strong', x: 961, y: 761, s: 16},
  {t: 'Intermedizte', x: 977, y: 827, s: 16},
  {t: 'Weak', x: 953, y: 876, s: 16},
  {t: 'A(mol)', x: 1099, y: 712, s: 20},
  {t: 'CN(mol)', x: 950, y: 1028, s: 20},
  {t: 'K(mol)', x: 1264, y: 1028, s: 20},
  {t: 'Kaolinite', x: 1133, y: 726, s: 14},
  {t: 'Illite', x: 1160, y: 796, s: 14},
  {t: 'Muscovite', x: 1191, y: 815, s: 14},
  {t: 'Smectite', x: 1011, y: 815, s: 12},
  {t: 'Plagioclase', x: 963, y: 922, s: 13, r: -59},
  {t: 'Tonalite', x: 1002, y: 953, s: 13, r: -62},
  {t: 'Granodiorite', x: 1025, y: 960, s: 13, r: -63},
  {t: 'Granite', x: 1070, y: 953, s: 13, r: -62},
  {t: 'K-feldspar', x: 1237, y: 930, s: 13, r: 55},
  {t: '10', x: 1062, y: 764, s: 12},
  {t: '20', x: 1034, y: 806, s: 12},
  {t: '30', x: 1013, y: 847, s: 12},
  {t: '40', x: 989, y: 888, s: 12},
  {t: 'PAAS', x: 1096, y: 828, s: 8},
  {t: 'NASC', x: 1140, y: 864, s: 8},
  {t: 'UCC', x: 1011, y: 913, s: 8},
  {t: 'Trend of weathering', x: 1047, y: 876, s: 13, r: -31},
  {t: 'CIA', x: 890, y: 860, s: 24, r: -90}
], [
  {pts: [[1096, 843], [1096, 833]], page: true, c: '#111', w: 1, h: 4},
  {pts: [[1133, 865], [1125, 862]], page: true, c: '#111', w: 1, h: 4}
], false);
</script>
</body>
</html>
